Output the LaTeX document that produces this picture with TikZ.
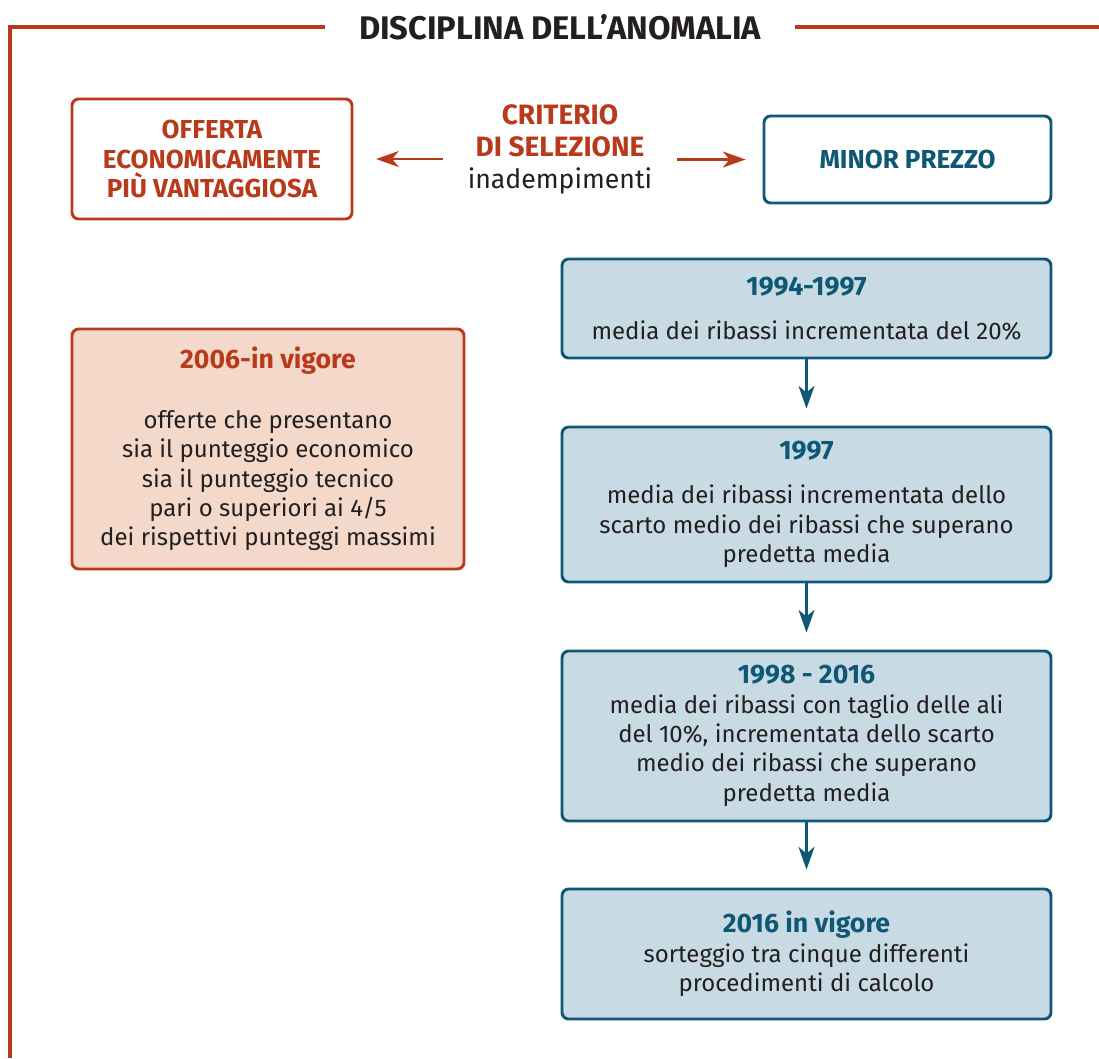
\documentclass[tikz,border=0pt]{standalone}
\usepackage{fontspec}
\setmainfont{Fira Sans}
\usetikzlibrary{arrows.meta}
\definecolor{orng}{HTML}{B83A1B}
\definecolor{teal2}{HTML}{0E5775}
\definecolor{lblue}{HTML}{C8DAE4}
\definecolor{peach}{HTML}{F4D9CA}
\definecolor{ink}{HTML}{231F20}
\newcommand{\bt}[1]{{\bfseries\fontsize{20}{22}\selectfont #1}}
\begin{document}
\begin{tikzpicture}[x=0.75pt,y=-0.75pt,
  box/.style={rounded corners=5pt, line width=2.2pt, align=center, inner sep=0pt, text=ink, font=\fontsize{18}{22}\selectfont},
  oline/.style={box, draw=orng, fill=white, text=orng, font=\bfseries\fontsize{19.5}{22}\selectfont},
  tline/.style={box, draw=teal2, fill=white, text=teal2, font=\bfseries\fontsize{19.5}{22}\selectfont},
  bbox/.style={box, draw=teal2, fill=lblue, minimum width=366.75pt},
  pbox/.style={box, draw=orng, fill=peach},
  frameline/.style={draw=orng, line width=2.4pt},
  oarrow/.style={draw=orng, line width=1.8pt, -{Stealth[length=17pt,width=12pt,inset=5pt]}},
  tarrow/.style={draw=teal2, line width=1.8pt, -{Stealth[length=17pt,width=12pt,inset=5pt]}}
]
\useasboundingbox (0,0) rectangle (1099,1058);
% frame
\coordinate (fl1) at (325,27);
\coordinate (tl) at (10,27);
\coordinate (bl) at (10,1058);
\coordinate (fr1) at (795,27);
\coordinate (tr) at (1099,27);
\draw[frameline] (fl1) -- (tl) -- (bl);
\draw[frameline] (fr1) -- (tr);
\node[text=ink, font=\bfseries\fontsize{24.5}{28}\selectfont, inner sep=0pt] (title) at (560,27) {DISCIPLINA DELL’ANOMALIA};

% top row
\node[oline, minimum width=210pt, minimum height=90pt] (oepv) at (212,159) {OFFERTA\\ECONOMICAMENTE\\PIÙ VANTAGGIOSA};
\node[align=center, inner sep=0pt, text=ink, font=\fontsize{20}{24}\selectfont] (crit) at (560,149)
  {{\bfseries\fontsize{21}{24}\selectfont\color{orng}CRITERIO}\\{\bfseries\fontsize{21}{24}\selectfont\color{orng}DI SELEZIONE}\\inadempimenti};
\node[tline, minimum width=215.25pt, minimum height=65.25pt] (mp) at (907.5,159.5) {MINOR PREZZO};
\coordinate (la) at (443,159);
\coordinate (ra) at (677,159.5);
\draw[oarrow, shorten >=17pt] (la) -- (oepv.east);
\draw[oarrow, shorten >=12.75pt] (ra) -- (mp.west |- ra);

% orange box
\node[pbox, minimum width=294pt, minimum height=180pt] (p1) at (268,449)
  {{\color{orng}\bt{2006-in vigore}}\\[23pt]offerte che presentano\\sia il punteggio economico\\sia il punteggio tecnico\\pari o superiori ai 4/5\\dei rispettivi punteggi massimi};

% blue column
\node[bbox, minimum height=74.25pt] (b1) at (806.5,308.5)
  {{\color{teal2}\bt{1994-1997}}\\[11pt]media dei ribassi incrementata del 20\%};
\node[bbox, minimum height=116.25pt] (b2) at (806.5,504.5)
  {{\color{teal2}\bt{1997}}\\[11pt]media dei ribassi incrementata dello\\scarto medio dei ribassi che superano\\predetta media};
\node[bbox, minimum height=127.5pt] (b3) at (806.5,736)
  {{\color{teal2}\bt{1998 - 2016}}\\media dei ribassi con taglio delle ali\\del 10\%, incrementata dello scarto\\medio dei ribassi che superano\\predetta media};
\node[bbox, minimum height=97.5pt] (b4) at (806.5,954)
  {{\color{teal2}\bt{2016 in vigore}}\\sorteggio tra cinque differenti\\procedimenti di calcolo};

\draw[tarrow, shorten >=12.75pt] (b1) -- (b2);
\draw[tarrow, shorten >=12.75pt] (b2) -- (b3);
\draw[tarrow, shorten >=13.5pt] (b3) -- (b4);
\end{tikzpicture}
\end{document}
